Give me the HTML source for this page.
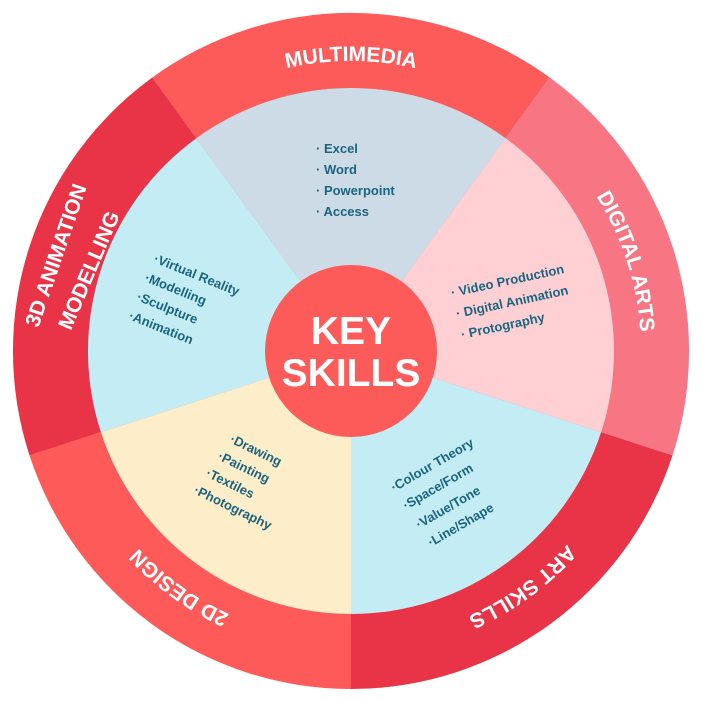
<!DOCTYPE html>
<html><head><style>
html,body{margin:0;padding:0;background:#fff;}
svg{display:block;}
.it{font-family:"Liberation Sans",sans-serif;font-weight:bold;font-size:13px;fill:#1b6580;}
.ot{font-family:"Liberation Sans",sans-serif;font-weight:bold;font-size:21px;fill:#fff;}
</style></head><body>
<svg width="702" height="702" viewBox="0 0 702 702" xmlns="http://www.w3.org/2000/svg">
<defs>
<path id="c1" d="M351,641 A290,290 0 1 1 351,61 A290,290 0 1 1 351,641"/>
</defs>
<g transform="translate(351,351)">
<path d="M0,0 L-198.7,-273.5 A338,338 0 0 1 198.7,-273.5 Z" fill="#fd5a5a"/>
<path d="M0,0 L198.7,-273.5 A338,338 0 0 1 321.5,104.4 Z" fill="#f87583"/>
<path d="M0,0 L321.5,104.4 A338,338 0 0 1 0,338 Z" fill="#e93347"/>
<path d="M0,0 L0,338 A338,338 0 0 1 -321.5,104.4 Z" fill="#fe5a5a"/>
<path d="M0,0 L-321.5,104.4 A338,338 0 0 1 -198.7,-273.5 Z" fill="#e93347"/>
<path d="M0,0 L-154.6,-212.8 A263,263 0 0 1 154.6,-212.8 Z" fill="#cddbe7"/>
<path d="M0,0 L154.6,-212.8 A263,263 0 0 1 250.1,81.3 Z" fill="#fed0d4"/>
<path d="M0,0 L250.1,81.3 A263,263 0 0 1 0,263 Z" fill="#c4ecf4"/>
<path d="M0,0 L0,263 A263,263 0 0 1 -250.1,81.3 Z" fill="#fdedc9"/>
<path d="M0,0 L-250.1,81.3 A263,263 0 0 1 -154.6,-212.8 Z" fill="#c4ecf4"/>
<circle r="86" fill="#fd5a5a"/>
</g>
<text x="351" y="344" text-anchor="middle" font-family="Liberation Sans,sans-serif" font-weight="bold" font-size="39" fill="#fff">KEY</text>
<text x="351" y="386" text-anchor="middle" font-family="Liberation Sans,sans-serif" font-weight="bold" font-size="39" fill="#fff">SKILLS</text>

<text class="ot"><textPath href="#c1" startOffset="50%" text-anchor="middle">MULTIMEDIA</textPath></text>
<text class="ot"><textPath href="#c1" startOffset="70%" text-anchor="middle">DIGITAL ARTS</textPath></text>
<text class="ot"><textPath href="#c1" startOffset="90%" text-anchor="middle">ART SKILLS</textPath></text>
<text class="ot"><textPath href="#c1" startOffset="10%" text-anchor="middle">2D DESIGN</textPath></text>
<g transform="translate(55,255) rotate(-71)"><text class="ot" style="font-size:21px" x="0" y="8" text-anchor="middle">3D ANIMATION</text></g>
<g transform="translate(88,270) rotate(-67)"><text class="ot" style="font-size:21px" x="0" y="8" text-anchor="middle">MODELLING</text></g>

<text class="it" x="316" y="153">· Excel</text>
<text class="it" x="316" y="174">· Word</text>
<text class="it" x="316" y="195">· Powerpoint</text>
<text class="it" x="316" y="216">· Access</text>

<g transform="translate(153,262) rotate(22)"><text class="it" x="0" y="0">·Virtual Reality</text></g>
<g transform="translate(144,281) rotate(22)"><text class="it" x="0" y="0">·Modelling</text></g>
<g transform="translate(136,300) rotate(22)"><text class="it" x="0" y="0">·Sculpture</text></g>
<g transform="translate(128,319) rotate(22)"><text class="it" x="0" y="0">·Animation</text></g>

<g transform="translate(452,297) rotate(-12)"><text class="it" x="0" y="0">· Video Production</text></g>
<g transform="translate(457,318) rotate(-12)"><text class="it" x="0" y="0">· Digital Animation</text></g>
<g transform="translate(462,339) rotate(-12)"><text class="it" x="0" y="0">· Protography</text></g>

<g transform="translate(394,492) rotate(-30)"><text class="it" x="0" y="0">·Colour Theory</text></g>
<g transform="translate(406,510) rotate(-30)"><text class="it" x="0" y="0">·Space/Form</text></g>
<g transform="translate(419,529) rotate(-30)"><text class="it" x="0" y="0">·Value/Tone</text></g>
<g transform="translate(431,547) rotate(-30)"><text class="it" x="0" y="0">·Line/Shape</text></g>

<g transform="translate(229,442) rotate(26)"><text class="it" x="0" y="0">·Drawing</text></g>
<g transform="translate(217,459) rotate(26)"><text class="it" x="0" y="0">·Painting</text></g>
<g transform="translate(205,476) rotate(26)"><text class="it" x="0" y="0">·Textiles</text></g>
<g transform="translate(193,493) rotate(26)"><text class="it" x="0" y="0">·Photography</text></g>
</svg>
</body></html>
